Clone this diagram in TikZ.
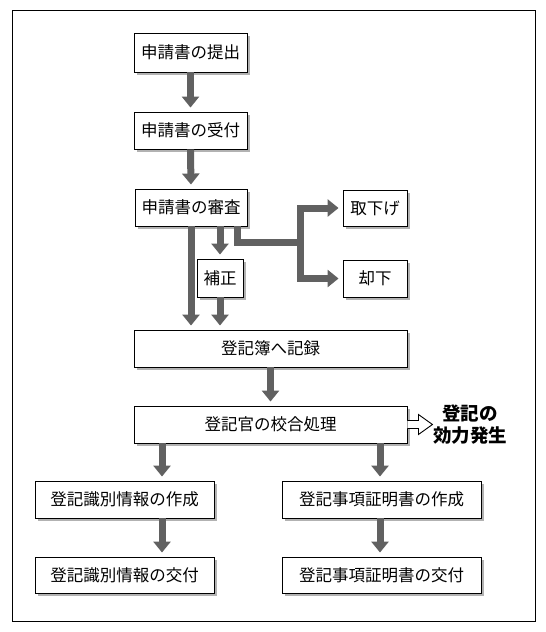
\documentclass[tikz,border=0pt]{standalone}
\usepackage{fontspec}
\setmainfont{Noto Sans CJK JP}
\usetikzlibrary{arrows.meta,shadows,calc}
\begin{document}
\begin{tikzpicture}[x=1pt,y=-1pt,
  box/.style={draw=black,line width=0.9pt,fill=white,inner sep=0pt,
    font=\fontsize{16.5}{19}\selectfont,
    drop shadow={shadow xshift=2.5pt,shadow yshift=-2.5pt,fill=black!30,opacity=1}},
  arr/.style={draw=black!62,line width=7pt,
    -{Triangle[width=17pt,length=11pt]},shorten >=4pt},
  seg/.style={draw=black!62,line width=7pt,line join=miter},
  hollow/.style={draw=black,line width=0.9pt,fill=white,line join=miter}]
\useasboundingbox (0,0) rectangle (546,632);
\draw[line width=0.9pt] (12,10) rectangle (535,621);
% boxes
\node[box,minimum width=113pt,minimum height=39pt] (teishutsu) at (190.5,52.5) {申請書の提出};
\node[box,minimum width=113pt,minimum height=37pt] (uketsuke) at (190.5,130.5) {申請書の受付};
\node[box,minimum width=112pt,minimum height=37pt] (shinsa) at (191,207.5) {申請書の審査};
\node[box,minimum width=46pt,minimum height=38pt] (hosei) at (220,278) {補正};
\node[box,minimum width=64pt,minimum height=36pt] (torisage) at (375,208) {取下げ};
\node[box,minimum width=64pt,minimum height=37pt] (kyakka) at (375,278.5) {却下};
\node[box,minimum width=273pt,minimum height=37pt] (kiroku) at (270.5,348.5) {登記簿へ記録};
\node[box,minimum width=273pt,minimum height=37pt] (kogo) at (270.5,424.5) {登記官の校合処理};
\node[box,minimum width=179pt,minimum height=37pt] (shikibetsu) at (124.5,499.5) {登記識別情報の作成};
\node[box,minimum width=179pt,minimum height=36pt] (shikibetsuK) at (124.5,575) {登記識別情報の交付};
\node[box,minimum width=199pt,minimum height=37pt] (shomei) at (381.5,499.5) {登記事項証明書の作成};
\node[box,minimum width=199pt,minimum height=36pt] (shomeiK) at (381.5,575) {登記事項証明書の交付};
\node[font=\bfseries\fontsize{18.5}{22}\selectfont,align=center,inner sep=0pt] (koryoku) at (470,424.5) {登記の\\効力発生};
% arrows
\draw[arr] (teishutsu.south) -- (uketsuke.north);
\draw[arr] (uketsuke.south) -- (shinsa.north);
\draw[arr] (shinsa.south) -- (kiroku.north -| shinsa.south);
\draw[arr] (shinsa.south -| hosei.north) -- (hosei.north);
\draw[arr] (hosei.south) -- (kiroku.north -| hosei.south);
\coordinate (br0) at (shinsa.south -| 237,0);
\coordinate (br) at (300,242);
\draw[seg] (br0) |- ($(br)+(3.5,0)$);
\draw[arr] ($(br)+(0,3.5)$) |- (torisage.west);
\draw[arr] ($(br)+(0,-3.5)$) |- (kyakka.west);
\draw[arr] (kiroku.south) -- (kogo.north);
\draw[arr] (kogo.south -| 162,0) -- (shikibetsu.north -| 162,0);
\draw[arr] (shikibetsu.south -| 162,0) -- (shikibetsuK.north -| 162,0);
\draw[arr] (kogo.south -| 380,0) -- (shomei.north -| 380,0);
\draw[arr] (shomei.south -| 380,0) -- (shomeiK.north -| 380,0);
% hollow arrow
\coordinate (h0) at (kogo.east);
\draw[hollow] ($(h0)+(0,-4)$) -- ++(11,0) -- ++(0,-6) -- ++(14,10) -- ++(-14,10) -- ++(0,-6) -- ++(-11,0);
\end{tikzpicture}
\end{document}
